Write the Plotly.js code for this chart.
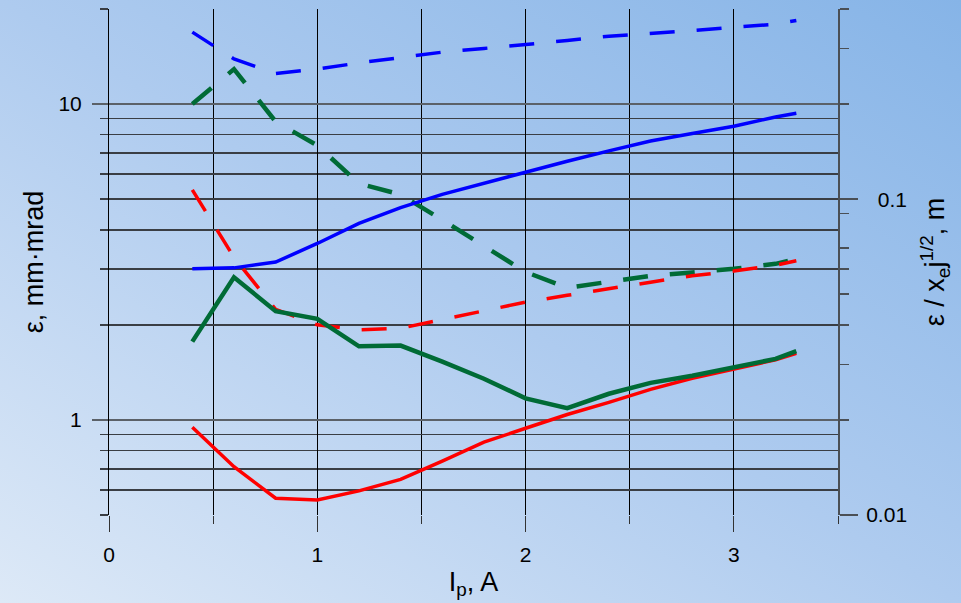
<!DOCTYPE html>
<html>
<head>
<meta charset="utf-8">
<script src="https://cdn.plot.ly/plotly-3.0.1.min.js"></script>
<style>
  html, body { margin: 0; padding: 0; }
  body {
    width: 961px; height: 603px; overflow: hidden;
    background: linear-gradient(to top right, #dde9f7 0%, #aecbef 50%, #86b4e7 100%);
  }
  #chart { width: 961px; height: 603px; }
</style>
</head>
<body>
<div id="chart"></div>
<script>
// Beam current, A
const xs = [0.4, 0.6, 0.8, 1.0, 1.2, 1.4, 1.6, 1.8, 2.0, 2.2, 2.4, 2.6, 2.8, 3.0, 3.2, 3.3];

// Emittance values, mm·mrad (left log axis)
const blueSolid  = [3.01, 3.03, 3.16, 3.62, 4.19, 4.70, 5.18, 5.62, 6.11, 6.59, 7.11, 7.64, 8.07, 8.51, 9.10, 9.35];
const blueDashed = [16.9, 13.9, 12.5, 12.9, 13.5, 14.0, 14.6, 15.0, 15.4, 15.9, 16.4, 16.8, 17.1, 17.5, 17.9, 18.4];
const greenSolid = [1.77, 2.83, 2.21, 2.09, 1.71, 1.72, 1.53, 1.35, 1.17, 1.09, 1.21, 1.31, 1.38, 1.47, 1.56, 1.65];
const greenDashed= [10.0, 12.9, 8.8, 7.4, 5.6, 5.17, 4.30, 3.56, 2.94, 2.62, 2.74, 2.86, 2.93, 3.01, 3.12, 3.23];
const redSolid   = [0.948, 0.711, 0.565, 0.558, 0.596, 0.648, 0.741, 0.850, 0.941, 1.04, 1.136, 1.249, 1.355, 1.446, 1.55, 1.625];
const redDashed  = [5.35, 3.27, 2.24, 2.0, 1.93, 1.95, 2.08, 2.22, 2.36, 2.48, 2.61, 2.73, 2.86, 2.96, 3.09, 3.19];

// Axis ticks
const xTicks = [0, 1, 2, 3];
const xTickText = ['0', '1', '2', '3'];
const xMinorTicks = [0.5, 1.5, 2.5, 3.5];
const yTicks = [1, 10];
const yTickText = ['1', '10'];
const yMinorTicks = [0.5, 0.6, 0.7, 0.8, 0.9, 2, 3, 4, 5, 6, 7, 8, 9, 20];
const y2Ticks = [0.01, 0.1];
const y2TickText = ['0.01', '\u00a0\u00a00.1'];
const y2MinorTicks = [0.02, 0.03, 0.04, 0.05, 0.06, 0.07, 0.09, 0.2, 0.3, 0.4];

const BLUE = '#0000ff', RED = '#ff0000', GREEN = '#006b36';
const DASH = '25px,22px';

function tr(y, color, width, dash) {
  return { x: xs, y: y, type: 'scatter', mode: 'lines', xaxis: 'x', yaxis: 'y',
    line: { color: color, width: width, dash: dash || 'solid' }, hoverinfo: 'skip' };
}

const data = [
  tr(greenDashed, GREEN, 4.5, DASH),
  tr(redDashed, RED, 3.5, DASH),
  tr(blueDashed, BLUE, 3.5, DASH),
  tr(blueSolid, BLUE, 3.5),
  tr(redSolid, RED, 3.5),
  tr(greenSolid, GREEN, 4.5),
  // empty trace that only binds the right-hand axis so it is drawn
  { x: [], y: [], type: 'scatter', mode: 'lines', xaxis: 'x', yaxis: 'y2', hoverinfo: 'skip' }
];

const FONT = 'Liberation Sans, Arial, sans-serif';

const layout = {
  width: 961, height: 603,
  margin: { l: 109, r: 123, t: 9, b: 88 },
  paper_bgcolor: 'rgba(0,0,0,0)',
  plot_bgcolor: 'rgba(0,0,0,0)',
  showlegend: false,
  font: { family: FONT, color: '#000', size: 21 },
  xaxis: {
    range: [0, 3.5], tickmode: 'array', tickvals: xTicks, ticktext: xTickText,
    ticks: 'outside', ticklen: 16, tickwidth: 1, tickcolor: '#333',
    showgrid: true, gridcolor: '#000', gridwidth: 1,
    zeroline: false, showline: false, automargin: false,
    ticklabelstandoff: 5,
    minor: { tickmode: 'array', tickvals: xMinorTicks, ticks: 'outside', ticklen: 8,
             tickcolor: '#333', tickwidth: 1, showgrid: true, gridcolor: '#000', gridwidth: 1 },
    title: { text: 'I<sub>p</sub>, A', font: { size: 27 }, standoff: 6 }
  },
  yaxis: {
    type: 'log', range: [Math.log10(0.5), Math.log10(20)],
    tickmode: 'array', tickvals: yTicks, ticktext: yTickText,
    ticks: 'outside', ticklen: 16, tickwidth: 2, tickcolor: '#5b6168',
    showgrid: true, gridcolor: '#5b6168', gridwidth: 2,
    showline: true, linecolor: '#000', linewidth: 1,
    zeroline: false, automargin: false, ticklabelstandoff: 6,
    minor: { tickmode: 'array', tickvals: yMinorTicks, ticks: 'outside', ticklen: 8,
             tickcolor: '#3a3e44', tickwidth: 1.5, showgrid: true, gridcolor: '#3a3e44', gridwidth: 1.5 },
    title: { text: 'ε, mm·mrad', font: { size: 27 }, standoff: 6 }
  },
  yaxis2: {
    type: 'log', overlaying: 'y', side: 'right', anchor: 'x',
    range: [-2, Math.log10(0.4)],
    tickmode: 'array', tickvals: y2Ticks, ticktext: y2TickText,
    ticks: 'outside', ticklen: 18, tickwidth: 1.5, tickcolor: '#4a4f55',
    showgrid: false, showline: true, linecolor: '#4a4f55', linewidth: 2,
    zeroline: false, automargin: false, ticklabelstandoff: 4,
    minor: { tickmode: 'array', tickvals: y2MinorTicks, ticks: 'outside', ticklen: 9,
             tickcolor: '#4a4f55', tickwidth: 1.5, showgrid: false },
    title: { text: 'ε / x<sub>e</sub>j<sup>1/2</sup>, m', font: { size: 27 }, standoff: 19 }
  }
};

Plotly.newPlot('chart', data, layout, { staticPlot: true, displayModeBar: false });
</script>
</body>
</html>
